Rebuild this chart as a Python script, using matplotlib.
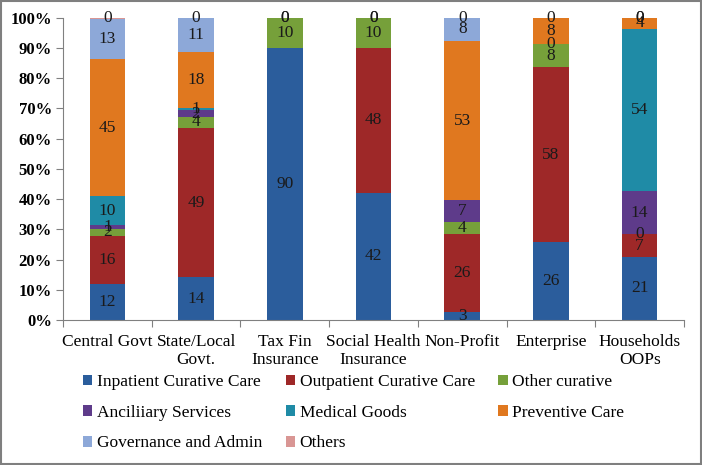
import numpy as np
import matplotlib.pyplot as plt
from matplotlib.patches import Rectangle

plt.rcParams['font.family'] = ['Liberation Serif', 'DejaVu Serif']

categories = ['Central Govt', 'State/Local\nGovt.', 'Tax Fin\nInsurance', 'Social Health\nInsurance',
              'Non-Profit', 'Enterprise', 'Households\nOOPs']
series = ['Inpatient Curative Care', 'Outpatient Curative Care', 'Other curative',
          'Anciliiary Services', 'Medical Goods', 'Preventive Care',
          'Governance and Admin', 'Others']
colors = ['#2B5D9C', '#9E2828', '#76A03A', '#5E3B8A', '#1F8BA6', '#E0781F', '#8DA8D8', '#D99694']

nan = np.nan
# share (%) per category; nan = segment with no label in the chart
inpatient = [11.9, 14.1, 90.0, 42.1, 2.7, 25.9, 20.9]
outpatient = [16.0, 49.4, nan, 47.8, 25.6, 57.6, 7.4]
other_curative = [2.3, 3.6, 10.0, 10.1, 4.2, 7.8, 0.2]
ancillary = [1.1, 2.2, nan, nan, 7.1, 0.0, 14.0]
medical_goods = [9.7, 0.9, nan, nan, nan, nan, 53.8]
preventive = [45.2, 18.4, nan, nan, 52.6, 8.4, 3.6]
governance = [13.4, 11.1, 0.0, 0.0, 7.8, 0.0, 0.0]
others = [0.4, 0.3, 0.0, 0.0, 0.0, nan, 0.1]

data = [inpatient, outpatient, other_curative, ancillary, medical_goods,
        preventive, governance, others]

fig = plt.figure(figsize=(7.02, 4.65), dpi=100)
ax = fig.add_axes([63 / 702, 1 - 320 / 465, 621 / 702, 302.5 / 465])

x = np.arange(len(categories))
bottom = np.zeros(len(categories))
handles = []
for name, vals, col in zip(series, data, colors):
    vals = np.array(vals, dtype=float)
    h = np.nan_to_num(vals)
    bars = ax.bar(x, h, 0.4, bottom=bottom, color=col, label=name)
    handles.append(bars)
    for xi, v, b in zip(x, vals, bottom):
        if not np.isnan(v):
            ax.text(xi, b + v / 2, '%.0f' % v, ha='center', va='center',
                    fontsize=12.5, color='#1a1a1a')
    bottom = bottom + h

ax.set_xlim(-0.5, len(categories) - 0.5)
ax.set_ylim(0, 100)
ax.set_yticks(np.arange(0, 101, 10))
ax.set_yticklabels(['%d%%' % t for t in range(0, 101, 10)], fontsize=12, fontweight='bold')
ax.set_xticks(np.arange(-0.5, len(categories), 1))
ax.set_xticklabels([])
ax.set_xticks(x, minor=True)
ax.set_xticklabels(categories, minor=True, fontsize=12.5, linespacing=1.15)
ax.tick_params(axis='x', which='minor', length=0, pad=10)
ax.tick_params(axis='x', which='major', length=5, direction='out', color='#808080')
ax.tick_params(axis='y', length=5, direction='out', color='#808080', pad=3)
for s in ['top', 'right']:
    ax.spines[s].set_visible(False)
for s in ['left', 'bottom']:
    ax.spines[s].set_color('#808080')

# legend is filled row by row in the chart
order = [0, 3, 6, 1, 4, 7, 2, 5]
fig.legend([handles[i] for i in order], [series[i] for i in order],
           loc='upper left', bbox_to_anchor=(76 / 702, 1 - 367 / 465), ncol=3, frameon=False,
           fontsize=12.5, handlelength=0.55, handleheight=0.55, handletextpad=0.25,
           columnspacing=1.35, labelspacing=0.85, borderaxespad=0)

fig.patches.append(Rectangle((0.002, 0.003), 0.996, 0.994, transform=fig.transFigure,
                             fill=False, edgecolor='#7f7f7f', linewidth=1.5))

plt.savefig('out.png', dpi=100)
